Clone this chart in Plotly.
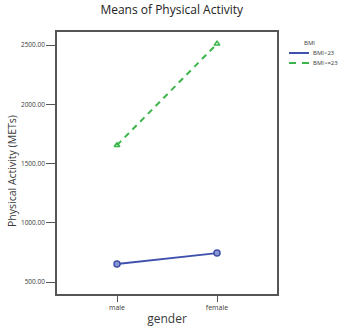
import plotly.graph_objects as go

genders = ["male", "female"]
bmi_low = [652, 744]
bmi_high = [1655, 2510]
series_names = ["BMI<23", "BMI>=23"]
legend_title = "BMI"
y_ticks = [500, 1000, 1500, 2000, 2500]
y_tick_labels = ["500.00", "1000.00", "1500.00", "2000.00", "2500.00"]

BLUE = "#3f51ad"
GREEN = "#3cb54a"
FONT = "Open Sans, Liberation Sans, sans-serif"
TXT = "#3a3a3a"

W, H = 351, 327
ML, MR, MT, MB = 57, 74, 32, 33
PW, PH = W - ML - MR, H - MT - MB


def px_to_paper(xp, yp):
    return (xp - ML) / PW, (H - MB - yp) / PH


fig = go.Figure()
fig.add_trace(go.Scatter(
    x=genders, y=bmi_low, name=series_names[0], mode="lines+markers", showlegend=False,
    line=dict(color=BLUE, width=2),
    marker=dict(symbol="circle", size=6, color="#8d97cf", line=dict(color=BLUE, width=1.5)),
))
fig.add_trace(go.Scatter(
    x=genders, y=bmi_high, name=series_names[1], mode="lines+markers", showlegend=False,
    line=dict(color=GREEN, width=2, dash="6px,5px"),
    marker=dict(symbol="triangle-up-open", size=5, color=GREEN, line=dict(color=GREEN, width=1.5)),
))

# hand-built compact legend (layout decoration)
shapes = []
annotations = []
lx0, lx1 = 289, 309
for name, color, dash, yp in [(series_names[0], BLUE, "solid", 53), (series_names[1], GREEN, "7px,6px", 63)]:
    x0, y0 = px_to_paper(lx0, yp)
    x1, _ = px_to_paper(lx1, yp)
    shapes.append(dict(type="line", xref="paper", yref="paper", x0=x0, x1=x1, y0=y0, y1=y0,
                       line=dict(color=color, width=2, dash=dash)))
    tx, ty = px_to_paper(311, yp)
    annotations.append(dict(text=name, xref="paper", yref="paper", x=tx, y=ty, xanchor="left",
                            yanchor="middle", showarrow=False, font=dict(size=6, color=TXT)))
bx, by = px_to_paper(309, 43)
annotations.append(dict(text=legend_title, xref="paper", yref="paper", x=bx, y=by, xanchor="center",
                        yanchor="middle", showarrow=False, font=dict(size=6, color=TXT)))
# y-axis title
ax, ay = px_to_paper(12, 171)
annotations.append(dict(text="Physical Activity (METs)", xref="paper", yref="paper", x=ax, y=ay,
                        xanchor="center", yanchor="middle", textangle=-90, showarrow=False,
                        font=dict(size=10.5, color=TXT)))

fig.update_layout(
    width=W, height=H,
    margin=dict(l=ML, r=MR, t=MT, b=MB, autoexpand=False),
    paper_bgcolor="white", plot_bgcolor="white",
    font=dict(family=FONT, color=TXT),
    title=dict(text="Means of Physical Activity", font=dict(size=12, color="#222222"),
               x=183 / W, xanchor="center", xref="paper", y=1 - 10 / H, yanchor="middle", yref="container"),
    showlegend=False,
    shapes=shapes,
    annotations=annotations,
    xaxis=dict(
        type="category", range=[-0.6, 1.6], automargin=False,
        showline=True, linecolor="#555555", linewidth=1.5, mirror=True,
        ticks="outside", ticklen=6, tickcolor="#555555", tickwidth=1,
        tickfont=dict(size=7, color=TXT), showgrid=False, zeroline=False,
        title=dict(text="gender", font=dict(size=12, color=TXT), standoff=15),
    ),
    yaxis=dict(
        range=[399, 2610], tickvals=y_ticks, ticktext=y_tick_labels, automargin=False,
        showline=True, linecolor="#555555", linewidth=1.5, mirror=True,
        ticks="outside", ticklen=9, tickcolor="#555555", tickwidth=1,
        tickfont=dict(size=6.5, color=TXT), showgrid=False, zeroline=False,
    ),
)

fig.write_html("out.html")
